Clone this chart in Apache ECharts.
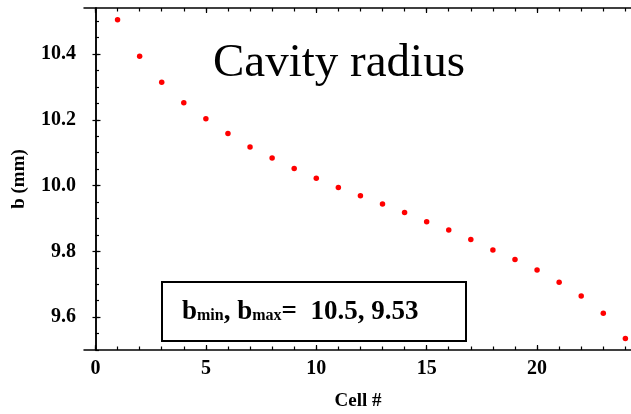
<!DOCTYPE html>
<html>
<head>
<meta charset="utf-8">
<script src="https://cdn.jsdelivr.net/npm/echarts@6/dist/echarts.min.js"></script>
<style>
html,body{margin:0;padding:0;background:#fff;}
#main{width:631px;height:414px;}
</style>
</head>
<body>
<div id="main"></div>
<script>
// Data
const cells = [1,2,3,4,5,6,7,8,9,10,11,12,13,14,15,16,17,18,19,20,21,22,23,24];
const radius = [10.504,10.393,10.314,10.252,10.203,10.158,10.117,10.084,10.052,10.022,9.994,9.969,9.944,9.918,9.890,9.865,9.836,9.804,9.775,9.743,9.706,9.664,9.612,9.535];
const xTicks = [0,5,10,15,20];
const xMinorTicks = [0,1,2,3,4,5,6,7,8,9,10,11,12,13,14,15,16,17,18,19,20,21,22,23,24];
const yTicks = [9.6,9.8,10.0,10.2,10.4];
const yMinorTicks = [9.5,9.55,9.6,9.65,9.7,9.75,9.8,9.85,9.9,9.95,10.0,10.05,10.1,10.15,10.2,10.25,10.3,10.35,10.4,10.45,10.5];
const titleText = 'Cavity radius';
const xName = 'Cell #';
const yName = 'b (mm)';

const FONT = 'Liberation Serif';
const xMin = -0.52, xMax = 24.3, yMin = 9.5, yMax = 10.54;
const lineStyle = {color:'#000', width:1.5};

function xAxis(pos, ticks, len, showLine, labels, name){
  return {
    type:'value', position:pos, min:xMin, max:xMax,
    axisLine:{show:showLine, lineStyle:lineStyle},
    axisTick:{show:true, inside:true, length:len, customValues:ticks, lineStyle:{color:'#000', width:1.2}},
    axisLabel:{show:!!labels, customValues:labels||[], color:'#000', fontFamily:FONT, fontWeight:'bold', fontSize:20, margin:9},
    splitLine:{show:false},
    name:name||'', nameLocation:'middle', nameGap:42,
    nameTextStyle:{color:'#000', fontFamily:FONT, fontWeight:'bold', fontSize:19}
  };
}
function yAxis(pos, ticks, len, showLine, labels, name){
  return {
    type:'value', position:pos, min:yMin, max:yMax,
    axisLine:{show:showLine, lineStyle:lineStyle},
    axisTick:{show:true, inside:true, length:len, customValues:ticks, lineStyle:{color:'#000', width:1.2}},
    axisLabel:{show:!!labels, customValues:labels||[], color:'#000', fontFamily:FONT, fontWeight:'bold', fontSize:20, margin:8,
      formatter:function(v){return v.toFixed(1);}},
    splitLine:{show:false},
    name:name||'', nameLocation:'middle', nameGap:55,
    nameTextStyle:{color:'#000', fontFamily:FONT, fontWeight:'bold', fontSize:19}
  };
}

const chart = echarts.init(document.getElementById('main'), null, {renderer:'canvas'});
chart.setOption({
  animation:false,
  backgroundColor:'#fff',
  grid:{left:84, right:-1, top:8, bottom:64, containLabel:false, outerBoundsMode:'none'},
  xAxis:[
    xAxis('bottom', xTicks, 5, true, xTicks, xName),
    xAxis('bottom', xMinorTicks, 3.5, false),
    xAxis('top', xTicks, 5, true),
    xAxis('top', xMinorTicks, 3.5, false)
  ],
  yAxis:[
    yAxis('left', yTicks, 5, true, yTicks, yName),
    yAxis('left', yMinorTicks, 3.5, false),
    yAxis('right', yTicks, 3, true)
  ],
  series:[{
    type:'scatter', xAxisIndex:0, yAxisIndex:0,
    data: cells.map((c,i)=>[c, radius[i]]),
    symbol:'circle', symbolSize:5.5,
    itemStyle:{color:'#ff0000', opacity:1}
  }],
  graphic:[
    {type:'text', left:213, top:40, style:{text:titleText, font:'47px "Liberation Serif"', fill:'#000'}},
    {type:'rect', shape:{x:162, y:282, width:304, height:59}, style:{fill:'#fff', stroke:'#000', lineWidth:2}},
    {type:'text', x:182, y:312, style:{
      text:'{b|b}{s|min}{b|, b}{s|max}{b|=  10.5, 9.53}',
      verticalAlign:'middle',
      rich:{
        b:{font:'bold 27px "Liberation Serif"', fill:'#000', verticalAlign:'bottom'},
        s:{font:'bold 16px "Liberation Serif"', fill:'#000', verticalAlign:'bottom', padding:[0,0,2,0]}
      }
    }}
  ]
});
</script>
</body>
</html>
